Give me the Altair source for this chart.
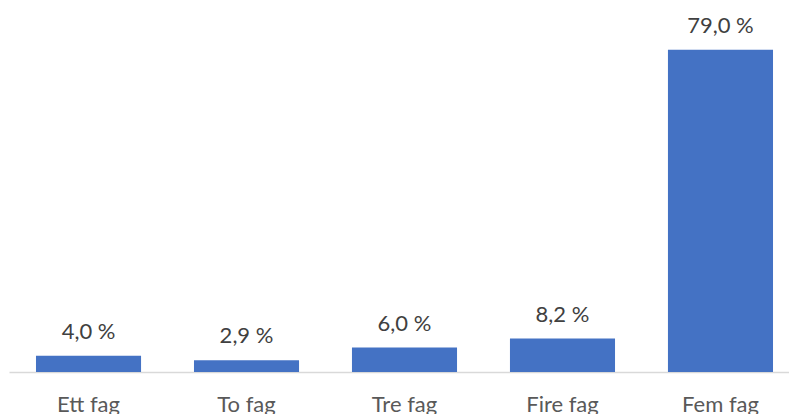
import altair as alt
import pandas as pd

categories = ["Ett fag", "To fag", "Tre fag", "Fire fag", "Fem fag"]
shares = [4.0, 2.9, 6.0, 8.2, 79.0]
labels = ["4,0 %", "2,9 %", "6,0 %", "8,2 %", "79,0 %"]

df = pd.DataFrame({"kategori": categories, "andel": shares, "etikett": labels})

FONT = "Lato"

x = alt.X(
    "kategori:N",
    sort=categories,
    title=None,
    scale=alt.Scale(paddingInner=0.335, paddingOuter=0.136, align=0.628),
    axis=alt.Axis(
        labelAngle=0,
        labelFont=FONT,
        labelFontSize=22,
        labelColor="#595959",
        labelBaseline="alphabetic",
        labelPadding=39,
        ticks=False,
        tickSize=0,
        domainColor="#d9d9d9",
        domainWidth=1.5,
        grid=False,
    ),
)
y = alt.Y("andel:Q", title=None, scale=alt.Scale(domain=[0, 90], nice=False), axis=None)

bars = alt.Chart(df).mark_bar(color="#4472C4").encode(x=x, y=y)
text = alt.Chart(df).mark_text(
    font=FONT, fontSize=22, color="#404040", baseline="alphabetic", dy=-17
).encode(x=x, y=y, text="etikett:N")

chart = (
    (bars + text)
    .properties(
        width=780,
        height=367,
        background="white",
        autosize=alt.AutoSizeParams(type="none"),
        padding={"left": 9, "top": 5, "right": 0, "bottom": 42},
    )
    .configure_view(strokeWidth=0)
)

chart.save("out.html", embed_options={"renderer": "svg", "actions": False})
